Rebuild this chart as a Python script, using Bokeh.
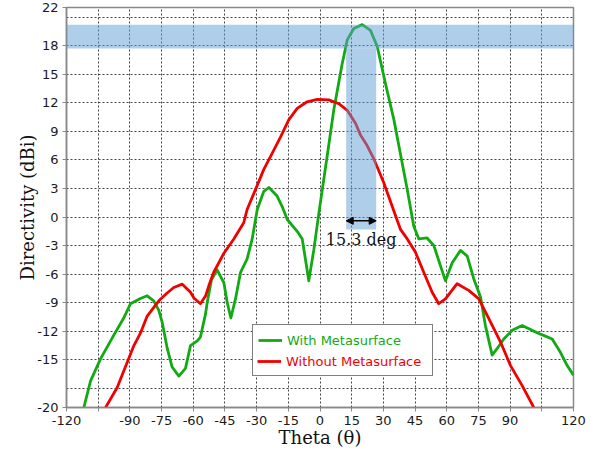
from bokeh.plotting import figure
from bokeh.models import (Range1d, FixedTicker, BoxAnnotation, Arrow, NormalHead,
                          Label, Legend, LegendItem)
from bokeh.embed import file_html
from bokeh.resources import INLINE

# ---- data ----
green_theta = [-111.8, -108.6, -103.9, -97.6, -92.9, -89.7, -85.0, -81.8, -78.7, -76.3,
               -74.7, -72.3, -70.0, -66.8, -63.7, -61.3, -58.1, -56.6, -54.2, -53.4,
               -51.4, -48.7, -45.5, -43.9, -42.2, -40.0, -37.6, -34.5, -32.1, -29.7,
               -26.6, -24.2, -20.3, -17.9, -15.5, -10.8, -8.4, -5.3, -2.9, -0.6,
               3.4, 6.5, 10.5, 12.9, 16.0, 20.0, 23.9, 27.1, 31.0, 35.0,
               38.1, 41.3, 44.4, 46.8, 50.7, 53.9, 57.0, 59.4, 62.6, 66.5,
               69.7, 72.8, 76.0, 78.3, 81.5, 83.9, 87.0, 91.0, 95.7, 100.4,
               104.4, 109.9, 113.8, 117.0, 120.0]
green_db = [-20.0, -17.2, -14.9, -12.4, -10.6, -9.1, -8.55, -8.27, -8.8, -9.8,
            -11.05, -13.8, -15.75, -16.7, -15.9, -13.5, -13.0, -12.6, -10.2, -9.0,
            -6.6, -5.55, -6.9, -9.0, -10.6, -8.6, -5.8, -4.4, -2.3, 0.8,
            2.7, 3.1, 2.2, 1.1, -0.26, -1.5, -2.3, -6.7, -3.4, 0.3,
            6.4, 11.2, 16.1, 18.6, 19.8, 20.2, 19.6, 17.9, 14.0, 10.2,
            6.6, 2.9, -0.96, -2.3, -2.2, -3.0, -5.1, -6.7, -4.8, -3.5,
            -4.1, -6.5, -8.4, -11.4, -14.5, -13.8, -12.8, -11.9, -11.4, -11.9,
            -12.3, -12.8, -14.2, -15.6, -16.6]

red_theta = [-101.5, -96.0, -88.1, -85.0, -81.8, -76.3, -72.5, -69.2, -65.2, -61.3,
             -59.7, -56.6, -54.2, -52.6, -50.3, -45.5, -40.8, -36.1, -34.5, -30.5,
             -26.6, -22.6, -18.7, -14.8, -10.8, -6.1, -1.3, 4.2, 8.9, 12.9,
             16.8, 19.2, 22.3, 25.5, 30.2, 34.2, 38.1, 41.3, 45.2, 49.1,
             53.1, 56.2, 59.4, 64.9, 70.4, 75.2, 80.7, 85.4, 90.2, 95.7,
             101.2]
red_db = [-20.0, -17.9, -13.5, -12.2, -10.4, -8.8, -8.0, -7.4, -7.05, -7.9,
          -8.5, -9.1, -8.3, -7.2, -5.8, -3.8, -2.3, -0.6, 0.79, 2.9,
          5.0, 6.7, 8.4, 10.2, 11.4, 12.1, 12.35, 12.3, 11.9, 11.2,
          9.85, 8.6, 7.5, 6.1, 3.6, 1.1, -1.3, -2.3, -3.7, -5.8,
          -7.9, -9.1, -8.6, -7.0, -7.7, -8.6, -11.0, -13.1, -15.6, -17.7,
          -20.0]

x_ticks = [-120, -105, -90, -75, -60, -45, -30, -15, 0, 15, 30, 45, 60, 75, 90, 105, 120]
x_tick_labels = ["-120", "", "-90", "-75", "-60", "-45", "-30", "-15", "0", "15", "30",
                 "45", "60", "75", "90", "", "120"]
x_grid = [-105, -90, -75, -60, -45, -30, -15, 0, 15, 30, 45, 60, 75, 90, 105]
y_ticks = [-20, -15, -12, -9, -6, -3, 0, 3, 6, 9, 12, 15, 18, 22]
y_tick_labels = ["-20", "-15", "-12", "-9", "-6", "-3", "0", "3", "6", "9", "12", "15",
                 "18", "22"]
y_grid = [-18, -15, -12, -9, -6, -3, 0, 3, 6, 9, 12, 15, 18, 21]

band_low, band_high = 17.7, 20.2          # horizontal (peak -3 dB) band
bw_left, bw_right, bw_bottom = 12.4, 26.6, -1.3   # beamwidth column
arrow_y = -0.4
bw_text = "15.3 deg"
bw_text_x, bw_text_y = 19.5, -2.4

GREEN = "#12aa12"
RED = "#f20000"
BAND = "#5f9dd5"

p = figure(width=586, height=450, x_range=Range1d(-120, 120), y_range=Range1d(-20, 22),
           output_backend="svg", toolbar_location=None,
           min_border_left=66, min_border_right=13, min_border_top=7, min_border_bottom=41)
p.background_fill_color = "white"
p.border_fill_color = "white"
p.outline_line_color = "#888888"
p.outline_line_width = 1.5

# grid
p.xgrid.ticker = FixedTicker(ticks=x_grid)
p.ygrid.ticker = FixedTicker(ticks=y_grid)
for g in (p.xgrid, p.ygrid):
    g.grid_line_color = "#444444"
    g.grid_line_dash = "2 2"
    g.grid_line_width = 1

# axes
p.xaxis.ticker = FixedTicker(ticks=x_ticks)
p.xaxis.major_label_overrides = dict(zip(x_ticks, x_tick_labels))
p.yaxis.ticker = FixedTicker(ticks=y_ticks)
p.yaxis.major_label_overrides = dict(zip(y_ticks, y_tick_labels))
for ax in (p.xaxis, p.yaxis):
    ax.axis_line_color = "#888888"
    ax.axis_line_width = 1.5
    ax.major_tick_line_color = "#888888"
    ax.major_tick_in = 0
    ax.major_tick_out = 4
    ax.minor_tick_line_color = None
    ax.major_label_text_font = "DejaVu Sans"
    ax.major_label_text_font_size = "13px"
    ax.major_label_text_color = "#1a1a1a"
    ax.axis_label_text_font = "DejaVu Serif"
    ax.axis_label_text_font_size = "18px"
    ax.axis_label_text_font_style = "normal"
    ax.axis_label_text_color = "#111111"
p.xaxis.axis_label = "Theta (\u03b8)"
p.yaxis.axis_label = "Directivity (dBi)"
p.xaxis.major_label_standoff = 4
p.yaxis.major_label_standoff = 4
p.xaxis.axis_label_standoff = -1
p.yaxis.axis_label_standoff = -4

# curves
r_green = p.line(green_theta, green_db, line_color=GREEN, line_width=2.8, line_join="round")
r_red = p.line(red_theta, red_db, line_color=RED, line_width=2.8, line_join="round")
dummy = p.line(x=[], y=[], line_alpha=0)

# shaded bands (drawn over the lines, translucent)
p.add_layout(BoxAnnotation(bottom=band_low, top=band_high, fill_color=BAND, fill_alpha=0.5,
                           line_alpha=0))
p.add_layout(BoxAnnotation(left=bw_left, right=bw_right, bottom=bw_bottom, top=band_low,
                           fill_color=BAND, fill_alpha=0.5, line_alpha=0))

# beamwidth arrow and label
p.add_layout(Arrow(x_start=bw_left, y_start=arrow_y, x_end=bw_right, y_end=arrow_y,
                   line_color="black", line_width=1.5,
                   start=NormalHead(size=7, fill_color="black", line_color="black"),
                   end=NormalHead(size=7, fill_color="black", line_color="black")))
p.add_layout(Label(x=bw_text_x, y=bw_text_y, text=bw_text, text_align="center",
                   text_baseline="middle", text_font="DejaVu Serif",
                   text_font_size="16px", text_color="#111111"))

# legend (two legends so each label has its own colour)
common = dict(padding=5, spacing=0, label_height=20, glyph_height=20, glyph_width=24,
              label_standoff=5, label_text_font="DejaVu Sans", label_text_font_size="13px",
              margin=0)
leg1 = Legend(items=[LegendItem(label="With Metasurface", renderers=[r_green]),
                     LegendItem(label=" ", renderers=[dummy])],
              location=(186, 31), label_width=140, label_text_color=GREEN,
              border_line_color="black", border_line_width=1.5,
              background_fill_color="white", background_fill_alpha=1, **common)
common2 = dict(common)
common2["padding"] = 0
leg2 = Legend(items=[LegendItem(label="Without Metasurface", renderers=[r_red])],
              location=(191, 36), label_text_color=RED,
              border_line_alpha=0, background_fill_alpha=0, **common2)
p.add_layout(leg1)
p.add_layout(leg2)

open("out.html", "w").write(file_html(p, INLINE))
